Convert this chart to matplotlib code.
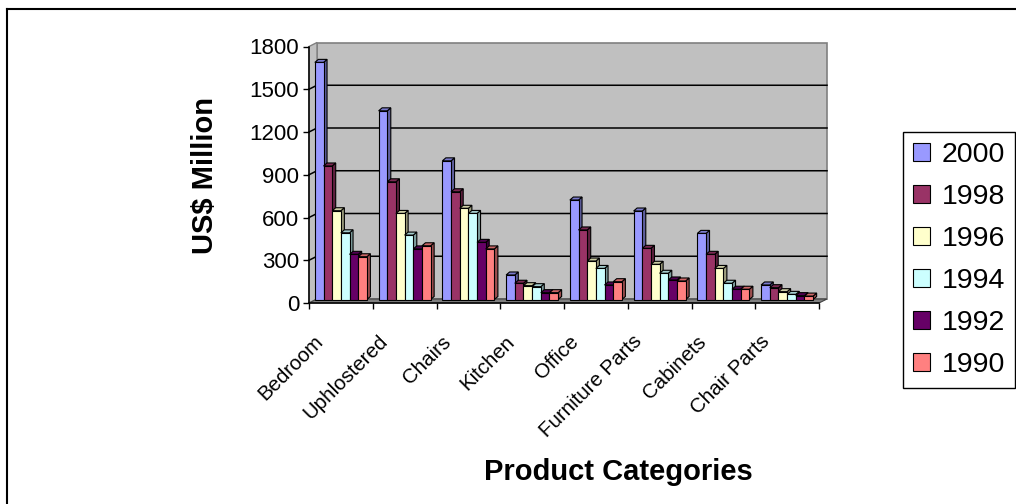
import matplotlib
matplotlib.use('Agg')
import matplotlib.pyplot as plt
from matplotlib.patches import Polygon, Rectangle, Patch
from matplotlib.lines import Line2D
from matplotlib.transforms import ScaledTranslation
import matplotlib.colors as mcolors

categories = ['Bedroom', 'Uphlostered', 'Chairs', 'Kitchen', 'Office',
              'Furniture Parts', 'Cabinets', 'Chair Parts']
years = ['2000', '1998', '1996', '1994', '1992', '1990']
v2000 = [1664, 1324, 973, 172, 698, 621, 464, 102]
v1998 = [937, 826, 756, 114, 488, 359, 317, 83]
v1996 = [623, 604, 640, 97, 270, 247, 218, 55]
v1994 = [468, 452, 604, 90, 218, 184, 114, 36]
v1992 = [317, 355, 401, 48, 102, 137, 72, 27]
v1990 = [300, 377, 355, 48, 125, 130, 72, 24]
series = [v2000, v1998, v1996, v1994, v1992, v1990]
colors = ['#9999FF', '#993366', '#FFFFCC', '#CCFFFF', '#660066', '#FF8080']
yticks = [0, 300, 600, 900, 1200, 1500, 1800]

plt.rcParams['font.family'] = ['Liberation Sans', 'DejaVu Sans']

W, H = 1016, 504
fig = plt.figure(figsize=(W / 100, H / 100), dpi=100)

# axes placement in pixels
X0, X1 = 309, 819
Y0, Y1 = 303, 46.5
ax = fig.add_axes([X0 / W, 1 - Y0 / H, (X1 - X0) / W, (Y0 - Y1) / H])
ncat = len(categories)
ymax = 1800
ax.set_xlim(0, ncat)
ax.set_ylim(0, ymax)
ax.set_facecolor('none')
for s in ax.spines.values():
    s.set_visible(False)

sx = (X1 - X0) / ncat
sy = (Y0 - Y1) / ymax
def dxp(p):
    return p / sx
def dyp(p):
    return p / sy

# 3D walls
wdx, wdy = dxp(8), dyp(4)
wtop = ymax
ax.add_patch(Rectangle((wdx, wdy), ncat, wtop, facecolor='#C0C0C0',
                       edgecolor='#808080', lw=1.2, clip_on=False, zorder=0))
ax.add_patch(Polygon([(0, 0), (wdx, wdy), (wdx, wtop + wdy), (0, wtop)],
                     closed=True, facecolor='#C0C0C0', edgecolor='#808080',
                     lw=1.0, clip_on=False, zorder=0))
ax.add_patch(Polygon([(0, 0), (ncat, 0), (ncat + wdx, wdy), (wdx, wdy)],
                     closed=True, facecolor='#808080', edgecolor='#404040',
                     lw=0.8, clip_on=False, zorder=1))
for v in yticks[1:-1]:
    ax.plot([0, wdx, ncat + wdx], [v, v + wdy, v + wdy], color='black',
            lw=1.1, clip_on=False, zorder=1)

# axis lines
ax.plot([0, 0], [0, wtop], color='black', lw=1.1, clip_on=False, zorder=5)
ax.plot([0, ncat], [0, 0], color='black', lw=1.1, clip_on=False, zorder=5)

ax.set_yticks(yticks)
ax.set_yticklabels([str(v) for v in yticks])
ax.set_xticks(range(ncat + 1))
ax.set_xticklabels([''] * (ncat + 1))
ax.tick_params(axis='y', direction='out', length=4, width=1, labelsize=16, pad=3)
ax.tick_params(axis='x', direction='out', length=4.5, width=1)

# bars
bw = 0.136
bdx, bdy = dxp(3.5), dyp(3)
base = dyp(3.5)

def shade(c, f):
    r, g, b = mcolors.to_rgb(c)
    return (r * f, g * f, b * f)

for j, (vals, col) in enumerate(zip(series, colors)):
    xs = [i + 0.5 + (j - 2.5) * bw for i in range(ncat)]
    for xc, v in zip(xs, vals):
        xl, xr = xc - bw / 2, xc + bw / 2
        top = base + v
        ax.add_patch(Polygon([(xr, base), (xr + bdx, base + bdy),
                              (xr + bdx, top + bdy), (xr, top)], closed=True,
                             facecolor=shade(col, 0.62), edgecolor='black',
                             lw=0.8, zorder=2 + 2 * j, clip_on=False))
        ax.add_patch(Polygon([(xl, top), (xr, top), (xr + bdx, top + bdy),
                              (xl + bdx, top + bdy)], closed=True,
                             facecolor=shade(col, 0.8), edgecolor='black',
                             lw=0.8, zorder=2 + 2 * j, clip_on=False))
    ax.bar(xs, vals, width=bw, bottom=base, color=col, edgecolor='black',
           lw=0.8, zorder=3 + 2 * j, clip_on=False)

# category labels
off = ScaledTranslation(-27 / 100, -29 / 100, fig.dpi_scale_trans)
for i, cat in enumerate(categories):
    ax.text(i + 0.5, 0, cat, transform=ax.transData + off, rotation=45,
            ha='right', va='top', rotation_mode='anchor', fontsize=14.8,
            family=['Liberation Sans Narrow', 'Liberation Sans'])

fig.text(205 / W, 1 - 176 / H, 'US$ Million', rotation=90, ha='center',
         va='center', fontsize=21, fontweight='bold')
fig.text(618 / W, 1 - 472 / H, 'Product Categories', ha='center',
         va='center', fontsize=21, fontweight='bold')

handles = [Patch(facecolor=c, edgecolor='black', lw=0.8) for c in colors]
leg = fig.legend(handles, years, loc='upper left',
                 bbox_to_anchor=(903 / W, 1 - 132 / H), fontsize=20.5,
                 frameon=True, fancybox=False, edgecolor='black',
                 framealpha=1, handlelength=0.6, handleheight=0.6,
                 handletextpad=0.4, labelspacing=0.56, borderpad=0.35,
                 borderaxespad=0)
leg.get_frame().set_linewidth(1.0)

# outer chart border (left and top visible)
fig.add_artist(Line2D([7 / W, 7 / W], [0, 1 - 9 / H], color='black', lw=1.5))
fig.add_artist(Line2D([7 / W, 1], [1 - 9 / H, 1 - 9 / H], color='black', lw=1.5))

fig.savefig('out.png', dpi=100, facecolor='white')
